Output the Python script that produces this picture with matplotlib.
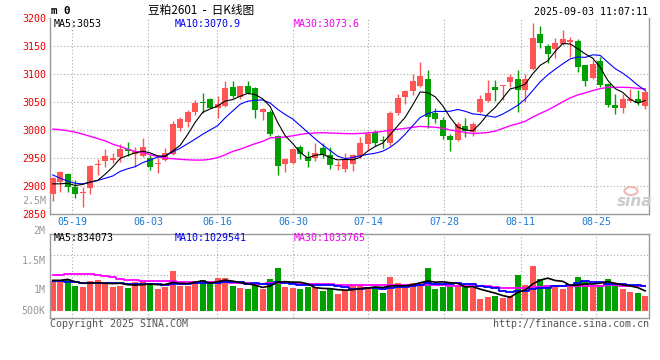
import matplotlib
matplotlib.use('Agg')
import matplotlib.pyplot as plt
import numpy as np
from matplotlib.patches import Ellipse
from matplotlib.transforms import blended_transform_factory

# ---------------- data ----------------
opens = [2885, 2908, 2922, 2898, 2888, 2896, 2937, 2944, 2946, 2952,
         2967, 2958, 2953, 2951, 2939, 2947, 2957, 3004, 3015, 3032,
         3050, 3056, 3040, 3044, 3078, 3060, 3079, 3075, 3033, 3032,
         2989, 2940, 2942, 2970, 2952, 2951, 2968, 2956, 2936, 2930,
         2940, 2953, 2976, 2996, 2981, 2977, 3031, 3060, 3070, 3079,
         3092, 3030, 3018, 2990, 2983, 3008, 2996, 3033, 3052, 3078,
         3079, 3087, 3092, 3072, 3110, 3172, 3150, 3145, 3154, 3158,
         3160, 3117, 3093, 3124, 3082, 3045, 3040, 3052, 3055, 3044]
highs = [2917, 2927, 2924, 2911, 2898, 2938, 2949, 2967, 2959, 2975,
         2979, 2970, 2986, 2956, 2950, 2968, 3017, 3023, 3036, 3054,
         3067, 3057, 3061, 3088, 3089, 3080, 3088, 3078, 3040, 3036,
         2991, 2950, 2968, 2973, 2962, 2978, 2977, 2970, 2944, 2959,
         2958, 2988, 2998, 3000, 2990, 3035, 3065, 3072, 3100, 3122,
         3108, 3039, 3024, 2993, 3015, 3021, 3014, 3063, 3090, 3090,
         3081, 3100, 3108, 3100, 3192, 3186, 3155, 3165, 3179, 3167,
         3164, 3117, 3125, 3131, 3084, 3065, 3065, 3074, 3072, 3072]
lows = [2874, 2889, 2890, 2879, 2862, 2886, 2920, 2935, 2941, 2943,
        2954, 2935, 2952, 2928, 2924, 2944, 2955, 2999, 3005, 3027,
        3031, 3039, 3021, 3042, 3057, 3056, 3065, 3021, 3018, 2989,
        2920, 2926, 2940, 2948, 2935, 2944, 2950, 2931, 2929, 2925,
        2927, 2950, 2962, 2972, 2969, 2972, 3027, 3047, 3063, 3078,
        3004, 3013, 2985, 2963, 2980, 2987, 2989, 3030, 3050, 3052,
        3054, 3078, 3033, 3051, 3108, 3148, 3120, 3129, 3152, 3131,
        3105, 3080, 3092, 3078, 3042, 3029, 3031, 3050, 3045, 3038]
closes = [2915, 2925, 2899, 2886, 2890, 2936, 2940, 2954, 2951, 2967,
          2962, 2963, 2970, 2935, 2940, 2959, 3011, 3020, 3032, 3049,
          3049, 3040, 3047, 3076, 3062, 3079, 3066, 3036, 3038, 2993,
          2936, 2948, 2966, 2958, 2944, 2960, 2956, 2937, 2937, 2949,
          2956, 2978, 2993, 2978, 2980, 3031, 3057, 3070, 3088, 3097,
          3024, 3020, 2990, 2983, 3011, 2999, 3011, 3056, 3066, 3072,
          3080, 3096, 3072, 3092, 3165, 3156, 3136, 3156, 3163, 3161,
          3114, 3089, 3118, 3081, 3045, 3039, 3056, 3055, 3048, 3068]
# volume in millions
volumes_m = [1.254, 1.197, 1.296, 1.056, 1.000, 1.254, 1.296, 1.183, 1.000, 1.056,
             0.958, 1.225, 1.268, 1.127, 0.915, 1.000, 1.676, 1.056, 1.056, 1.239,
             1.296, 1.155, 1.380, 1.380, 1.042, 0.972, 0.915, 1.070, 0.930, 1.338,
             1.803, 1.000, 0.958, 0.915, 1.000, 1.000, 0.831, 0.915, 0.704, 0.887,
             1.085, 1.085, 1.014, 0.944, 0.761, 1.423, 1.169, 0.944, 1.183, 1.183,
             1.803, 0.915, 1.014, 1.000, 1.042, 1.042, 0.972, 0.493, 0.577, 0.620,
             0.535, 0.620, 1.507, 1.085, 1.901, 1.338, 1.042, 1.014, 0.915, 1.042,
             1.423, 1.254, 1.014, 1.085, 1.338, 1.085, 0.915, 0.803, 0.746, 0.634]
# moving-average values before enough history is shown
ma5_head = [2904, 2904, 2905, 2901]
ma10_head = [2920, 2914, 2909, 2905, 2904, 2907, 2910, 2914, 2918]
ma30_head = [3002, 3001, 2999, 2996.5, 2993, 2989, 2985, 2981, 2975, 2971,
             2966, 2962, 2960, 2956, 2953, 2950, 2949, 2948, 2947, 2946.5,
             2946.5, 2948, 2951, 2956, 2962, 2966, 2971, 2976, 2980]
vma5_head = [1.282, 1.282, 1.324, 1.225]
vma10_head = [1.268, 1.239, 1.211, 1.197, 1.183, 1.183, 1.183, 1.169, 1.155]
vma30_head = [1.507, 1.507, 1.549, 1.549, 1.549, 1.549, 1.521, 1.465, 1.408, 1.352,
              1.310, 1.296, 1.268, 1.254, 1.254, 1.239, 1.239, 1.225, 1.225, 1.225,
              1.225, 1.211, 1.197, 1.197, 1.183, 1.169, 1.155, 1.141, 1.127]

price_ticks = [2850, 2900, 2950, 3000, 3050, 3100, 3150, 3200]
date_labels = ['05-19', '06-03', '06-16', '06-30', '07-14', '07-28', '08-11', '08-25']
vol_labels = ['2M', '1.5M', '1M', '500K']
title = '豆粕2601  -  日K线图'
stamp = '2025-09-03 11:07:11'
price_legend = ['MA5:3053', 'MA10:3070.9', 'MA30:3073.6']
vol_legend = ['MA5:834073', 'MA10:1029541', 'MA30:1033765']

# ---------------- layout ----------------
W, H = 660, 360
RED, GREEN = '#ff5555', '#00a000'
GRID = '#aaaaaa'
FRAME = '#999999'
MONO = 'DejaVu Sans Mono'
FS = 7.2

fig = plt.figure(figsize=(6.6, 3.6), dpi=100)
fig.patch.set_facecolor('white')


def fx(x):
    return x / W


def fy(y):
    return 1 - y / H


L, R = 50.0, 649.3
MT, MB = 18.5, 214.0
VT, VB = 234.3, 317.7
X0, STEP = 52.7, 7.5
ax = fig.add_axes([fx(L), fy(MB), (R - L) / W, (MB - MT) / H])
axv = fig.add_axes([fx(L), fy(VB), (R - L) / W, (VB - VT) / H])

o = np.array(opens, float)
h = np.array(highs, float)
lo = np.array(lows, float)
c = np.array(closes, float)
v = np.array(volumes_m, float)
n = len(c)
idx = np.arange(n)
xlim = ((L - X0) / STEP, (R - X0) / STEP)


def rolling(x, w, head):
    out = np.empty(len(x))
    out[:w - 1] = head
    for i in range(w - 1, len(x)):
        out[i] = x[i - w + 1:i + 1].mean()
    return out


colors = np.where(c >= o, RED, GREEN)
grid_px = [72.3, 148.0, 217.3, 293.0, 368.0, 444.0, 520.7, 596.3]
grid_x = [(g - X0) / STEP for g in grid_px]
dot = (0, (1, 2))

# ---- main panel ----
for yv in price_ticks[1:]:
    ax.axhline(yv, color=GRID, lw=0.8, ls=dot, zorder=0)
for gx in grid_x:
    ax.axvline(gx, color=GRID, lw=0.8, ls=dot, zorder=0)
ax.vlines(idx, lo, h, colors=colors, lw=1.0, zorder=2)
body_b = np.minimum(o, c)
body_h = np.maximum(np.abs(c - o), 1.8)
ax.bar(idx, body_h, bottom=body_b, width=0.8, color=colors, lw=0, zorder=3)
ma5 = rolling(c, 5, ma5_head)
ma10 = rolling(c, 10, ma10_head)
ma30 = rolling(c, 30, ma30_head)
ax.plot(idx, ma30, color='#ff00ff', lw=1.0, zorder=4)
ax.plot(idx, ma10, color='#0000ff', lw=0.8, zorder=5)
ax.plot(idx, ma5, color='black', lw=0.8, zorder=6)
ax.set_xlim(*xlim)
ax.set_ylim(price_ticks[0], price_ticks[-1])
ax.set_xticks([])
ax.set_yticks(price_ticks)
ax.set_yticklabels([str(t) for t in price_ticks], color='#ee0000',
                   family=MONO, fontsize=FS)
ax.tick_params(axis='y', length=0, pad=2.4)
for s in ['left', 'right', 'bottom']:
    ax.spines[s].set_color(FRAME)
    ax.spines[s].set_linewidth(1.0)
ax.spines['top'].set_visible(False)

# ---- volume panel ----
vbase_px = 310.7
ppm = 71 / 3.0  # pixels per million
axv.set_ylim(-(VB - vbase_px) / ppm, (vbase_px - VT) / ppm)
axv.set_xlim(*xlim)
for frac in [0.752, 0.512]:
    axv.axhline(axv.get_ylim()[0] + frac * (axv.get_ylim()[1] - axv.get_ylim()[0]),
                color=GRID, lw=0.8, ls=dot, zorder=0)
for gx in grid_x:
    axv.axvline(gx, color=GRID, lw=0.8, ls=dot, zorder=0)
axv.bar(idx, v, width=0.76, color=colors, lw=0, zorder=2)
vma5 = rolling(v, 5, vma5_head)
vma10 = rolling(v, 10, vma10_head)
vma30 = rolling(v, 30, vma30_head)
axv.plot(idx, vma30, color='#ff00ff', lw=1.3, drawstyle='steps-mid', zorder=3)
axv.plot(idx, vma10, color='#0000ff', lw=1.3, drawstyle='steps-mid', zorder=4)
axv.plot(idx, vma5, color='black', lw=1.2, zorder=5)
axv.set_xticks([])
axv.set_yticks([])
for s in axv.spines.values():
    s.set_color(FRAME)
    s.set_linewidth(1.0)

# ---- texts ----
tr = blended_transform_factory(ax.transData, fig.transFigure)
for gx, lab in zip(grid_x, date_labels):
    ax.text(gx, fy(221.7), lab, transform=tr, ha='center', va='center',
            family=MONO, fontsize=FS, color='#1e78d2', clip_on=False)

fig.text(fx(51), fy(11.5), 'm 0', family=MONO, fontsize=7.8, fontweight='bold',
         ha='left', va='center')
fig.text(fx(201), fy(10.5), title, family=['Noto Sans CJK SC', 'DejaVu Sans'],
         fontsize=8.4, ha='center', va='center')
fig.text(fx(648.5), fy(11.7), stamp, family=MONO, fontsize=FS, ha='right', va='center')

leg_x = [53.3, 175.0, 294.0]
leg_c = ['black', '#0000ee', '#ee00ee']
for x, t, col in zip(leg_x, price_legend, leg_c):
    fig.text(fx(x), fy(24.2), t, family=MONO, fontsize=FS, color=col, ha='left', va='center')
for x, t, col in zip(leg_x, vol_legend, leg_c):
    fig.text(fx(x), fy(238.3), t, family=MONO, fontsize=FS, color=col, ha='left', va='center')

vol_label_y = [231.0, 260.5, 290.3, 311.0]
for y, t in zip(vol_label_y, vol_labels):
    fig.text(fx(45.7), fy(y), t, family=MONO, fontsize=FS, color='#999999',
             ha='right', va='center')
fig.text(fx(46.7), fy(200.5), '2.5M', family=MONO, fontsize=FS, color='#999999',
         ha='right', va='center')

fig.text(fx(50), fy(324), 'Copyright 2025 SINA.COM', family=MONO, fontsize=FS,
         color='#555555', ha='left', va='center')
fig.text(fx(649.3), fy(324), 'http://finance.sina.com.cn', family=MONO, fontsize=FS,
         color='#555555', ha='right', va='center')

# sina watermark
fig.patches.append(Ellipse((fx(631), fy(191)), 13 / W, 8 / H, transform=fig.transFigure,
                           facecolor='none', edgecolor='#f2b8b8', lw=1.5, zorder=10))
fig.text(fx(635), fy(201), 'sina', fontsize=11, fontweight='bold', style='italic',
         color='#cccccc', ha='center', va='center', zorder=10)

fig.savefig('out.png', dpi=100, facecolor='white')
